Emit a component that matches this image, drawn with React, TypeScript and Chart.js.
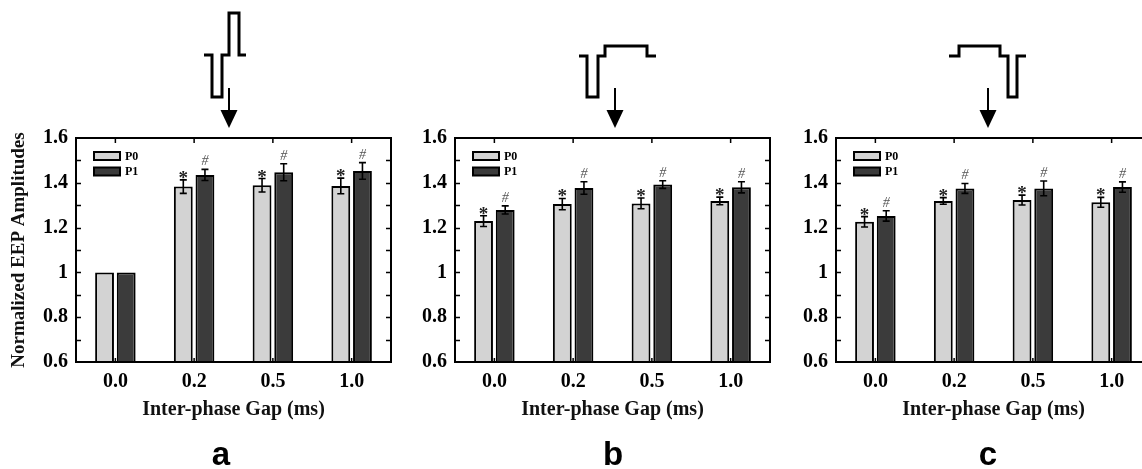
import React, { useEffect, useRef } from "react";
import { Chart, registerables } from "chart.js";

Chart.register(...registerables);

// ---------- data ----------
const categories = ["0.0", "0.2", "0.5", "1.0"];
const seriesNames = ["P0", "P1"];
const yTicks = [0.6, 0.8, 1, 1.2, 1.4, 1.6];

const panelA_P0 = [1.0, 1.383, 1.389, 1.386];
const panelA_P1 = [1.0, 1.435, 1.447, 1.453];
const panelA_P0Err = [0, 0.03, 0.03, 0.035];
const panelA_P1Err = [0, 0.025, 0.038, 0.037];
const panelA_P0Mark = ["", "*", "*", "*"];
const panelA_P1Mark = ["", "#", "#", "#"];

const panelB_P0 = [1.229, 1.305, 1.308, 1.319];
const panelB_P1 = [1.279, 1.377, 1.392, 1.38];
const panelB_P0Err = [0.024, 0.025, 0.024, 0.017];
const panelB_P1Err = [0.018, 0.028, 0.017, 0.025];
const panelB_P0Mark = ["*", "*", "*", "*"];
const panelB_P1Mark = ["#", "#", "#", "#"];

const panelC_P0 = [1.226, 1.319, 1.323, 1.313];
const panelC_P1 = [1.252, 1.375, 1.375, 1.381];
const panelC_P0Err = [0.023, 0.015, 0.022, 0.022];
const panelC_P1Err = [0.023, 0.022, 0.033, 0.023];
const panelC_P0Mark = ["*", "*", "*", "*"];
const panelC_P1Mark = ["#", "#", "#", "#"];

const xTitle = "Inter-phase Gap (ms)";
const yTitle = "Normalized EEP Amplitudes";

// ---------- styling ----------
const SERIF = "'Liberation Serif', 'Times New Roman', serif";
const SANS = "'Liberation Sans', Arial, sans-serif";
const FILLS = ["#d3d3d3", "#3b3b3b"];

type Pt = [number, number];

type PanelCfg = {
  left: number;
  width: number;
  yWidth: number;
  padRight: number;
  showYTitle: boolean;
  p0: number[];
  p1: number[];
  p0Err: number[];
  p1Err: number[];
  p0Mark: string[];
  p1Mark: string[];
  wave: Pt[];
  arrowX: number;
  letter: string;
  letterX: number;
};

const panels: PanelCfg[] = [
  {
    left: 0, width: 395, yWidth: 76, padRight: 4, showYTitle: true,
    p0: panelA_P0, p1: panelA_P1, p0Err: panelA_P0Err, p1Err: panelA_P1Err,
    p0Mark: panelA_P0Mark, p1Mark: panelA_P1Mark,
    wave: [[128, 55], [136, 55], [136, 97], [146, 97], [146, 55], [153, 55], [153, 13], [163, 13], [163, 55], [170, 55]],
    arrowX: 153, letter: "a", letterX: 145,
  },
  {
    left: 395, width: 380, yWidth: 60, padRight: 5, showYTitle: false,
    p0: panelB_P0, p1: panelB_P1, p0Err: panelB_P0Err, p1Err: panelB_P1Err,
    p0Mark: panelB_P0Mark, p1Mark: panelB_P1Mark,
    wave: [[124, 56], [132, 56], [132, 97], [143, 97], [143, 56], [150, 56], [150, 46], [192, 46], [192, 56], [201, 56]],
    arrowX: 160, letter: "b", letterX: 158,
  },
  {
    left: 775, width: 380, yWidth: 61, padRight: 4, showYTitle: false,
    p0: panelC_P0, p1: panelC_P1, p0Err: panelC_P0Err, p1Err: panelC_P1Err,
    p0Mark: panelC_P0Mark, p1Mark: panelC_P1Mark,
    wave: [[113, 56], [123, 56], [123, 46], [164, 46], [164, 56], [172, 56], [172, 97], [181, 97], [181, 56], [190, 56]],
    arrowX: 152, letter: "c", letterX: 152,
  },
];

function makeDecor(cfg: PanelCfg) {
  return {
    id: "decor",
    afterDatasetsDraw(chart: any) {
      const ctx: CanvasRenderingContext2D = chart.ctx;
      const area = chart.chartArea;
      const xs = chart.scales.x;
      const ys = chart.scales.y;
      ctx.save();

      // error bars and significance marks
      const errs = [cfg.p0Err, cfg.p1Err];
      const marks = [cfg.p0Mark, cfg.p1Mark];
      chart.data.datasets.forEach((ds: any, di: number) => {
        const meta = chart.getDatasetMeta(di);
        meta.data.forEach((el: any, j: number) => {
          const v = ds.data[j] as number;
          const e = errs[di][j];
          const x = el.x;
          let topY = ys.getPixelForValue(v);
          if (e > 0) {
            const yT = ys.getPixelForValue(v + e);
            const yB = ys.getPixelForValue(v - e);
            ctx.strokeStyle = "#000";
            ctx.lineWidth = 1.6;
            ctx.beginPath();
            ctx.moveTo(x, yT);
            ctx.lineTo(x, yB);
            ctx.moveTo(x - 3.5, yT);
            ctx.lineTo(x + 3.5, yT);
            ctx.moveTo(x - 3.5, yB);
            ctx.lineTo(x + 3.5, yB);
            ctx.stroke();
            topY = yT;
          }
          const m = marks[di][j];
          if (m) {
            ctx.textAlign = "center";
            ctx.textBaseline = "alphabetic";
            if (m === "*") {
              ctx.fillStyle = "#222";
              ctx.font = `bold 19px ${SERIF}`;
              ctx.fillText(m, x, topY + 4);
            } else {
              ctx.fillStyle = "#555";
              ctx.font = `italic 14px ${SERIF}`;
              ctx.fillText(m, x, topY - 4);
            }
          }
        });
      });

      // frame
      ctx.strokeStyle = "#000";
      ctx.lineWidth = 2;
      ctx.strokeRect(area.left, area.top, area.right - area.left, area.bottom - area.top);

      // inward ticks
      ctx.lineWidth = 1.5;
      ctx.beginPath();
      for (let k = 1; k < 10; k++) {
        const v = 0.6 + k * 0.1;
        const py = Math.round(ys.getPixelForValue(v)) + 0.5;
        ctx.moveTo(area.left, py);
        ctx.lineTo(area.left + 5, py);
        ctx.moveTo(area.right, py);
        ctx.lineTo(area.right - 5, py);
      }
      categories.forEach((_, j) => {
        const px = xs.getPixelForValue(j);
        ctx.moveTo(px, area.top);
        ctx.lineTo(px, area.top + 5);
        ctx.moveTo(px, area.bottom);
        ctx.lineTo(px, area.bottom - 4);
      });
      ctx.stroke();

      // legend
      seriesNames.forEach((name, i) => {
        const bx = area.left + 18;
        const by = 152 + i * 15.5;
        ctx.fillStyle = FILLS[i];
        ctx.fillRect(bx, by, 26, 8);
        ctx.strokeStyle = "#000";
        ctx.lineWidth = 2;
        ctx.strokeRect(bx, by, 26, 8);
        ctx.fillStyle = "#000";
        ctx.font = `bold 12px ${SERIF}`;
        ctx.textAlign = "left";
        ctx.textBaseline = "middle";
        ctx.fillText(name, bx + 31, by + 4.5);
      });

      // waveform icon
      ctx.strokeStyle = "#000";
      ctx.lineWidth = 3;
      ctx.lineJoin = "miter";
      ctx.beginPath();
      cfg.wave.forEach(([wx, wy], k) => {
        const px = area.left + wx;
        if (k === 0) ctx.moveTo(px, wy);
        else ctx.lineTo(px, wy);
      });
      ctx.stroke();

      // arrow
      const ax = area.left + cfg.arrowX;
      ctx.lineWidth = 2;
      ctx.beginPath();
      ctx.moveTo(ax, 88);
      ctx.lineTo(ax, 112);
      ctx.stroke();
      ctx.fillStyle = "#000";
      ctx.beginPath();
      ctx.moveTo(ax - 8.5, 110);
      ctx.lineTo(ax + 8.5, 110);
      ctx.lineTo(ax, 128);
      ctx.closePath();
      ctx.fill();

      // panel letter
      ctx.fillStyle = "#000";
      ctx.font = `bold 33px ${SANS}`;
      ctx.textAlign = "center";
      ctx.textBaseline = "alphabetic";
      ctx.fillText(cfg.letter, area.left + cfg.letterX, 465);

      ctx.restore();
    },
  };
}

function Panel({ cfg }: { cfg: PanelCfg }) {
  const ref = useRef<HTMLCanvasElement | null>(null);
  useEffect(() => {
    if (!ref.current) return;
    const chart = new Chart(ref.current, {
      type: "bar",
      data: {
        labels: categories,
        datasets: [
          {
            label: seriesNames[0],
            data: cfg.p0,
            backgroundColor: FILLS[0],
            borderColor: "#000",
            borderWidth: 2,
            borderSkipped: false,
            barPercentage: 0.87,
            categoryPercentage: 0.55,
          },
          {
            label: seriesNames[1],
            data: cfg.p1,
            backgroundColor: FILLS[1],
            borderColor: "#000",
            borderWidth: 2,
            borderSkipped: false,
            barPercentage: 0.87,
            categoryPercentage: 0.55,
          },
        ],
      },
      options: {
        responsive: false,
        animation: false,
        events: [],
        layout: { padding: { top: 138, bottom: 47, left: 0, right: cfg.padRight } },
        plugins: { legend: { display: false }, tooltip: { enabled: false } },
        scales: {
          x: {
            type: "category",
            grid: { display: false, drawTicks: false },
            border: { display: false },
            ticks: {
              color: "#000",
              padding: 8,
              maxRotation: 0,
              font: { family: SERIF, size: 20, weight: "bold" },
            },
            title: {
              display: true,
              text: xTitle,
              color: "#111",
              padding: 0,
              font: { family: SERIF, size: 20, weight: "bold" },
            },
            afterFit: (s: any) => {
              s.height = 60;
            },
          },
          y: {
            type: "linear",
            min: 0.6,
            max: 1.6,
            grid: { display: false, drawTicks: false },
            border: { display: false },
            afterBuildTicks: (s: any) => {
              s.ticks = yTicks.map((v) => ({ value: v }));
            },
            ticks: {
              color: "#000",
              padding: 8,
              font: { family: SERIF, size: 20, weight: "bold" },
              callback: (v: any) => (Math.abs(Number(v) - 1) < 1e-9 ? "1" : Number(v).toFixed(1)),
            },
            title: {
              display: cfg.showYTitle,
              text: yTitle,
              color: "#111",
              padding: { top: 8, bottom: 0 },
              font: { family: SERIF, size: 19, weight: "bold" },
            },
            afterFit: (s: any) => {
              s.width = cfg.yWidth;
            },
          },
        },
      },
      plugins: [makeDecor(cfg)],
    } as any);
    return () => chart.destroy();
  }, [cfg]);
  return (
    <canvas
      ref={ref}
      width={cfg.width}
      height={469}
      style={{ position: "absolute", left: cfg.left, top: 0, width: cfg.width, height: 469 }}
    />
  );
}

export default function App() {
  return (
    <div
      style={{
        position: "fixed",
        left: 0,
        top: 0,
        width: 1142,
        height: 469,
        overflow: "hidden",
        background: "#fff",
      }}
    >
      {panels.map((p, i) => (
        <Panel key={i} cfg={p} />
      ))}
    </div>
  );
}
